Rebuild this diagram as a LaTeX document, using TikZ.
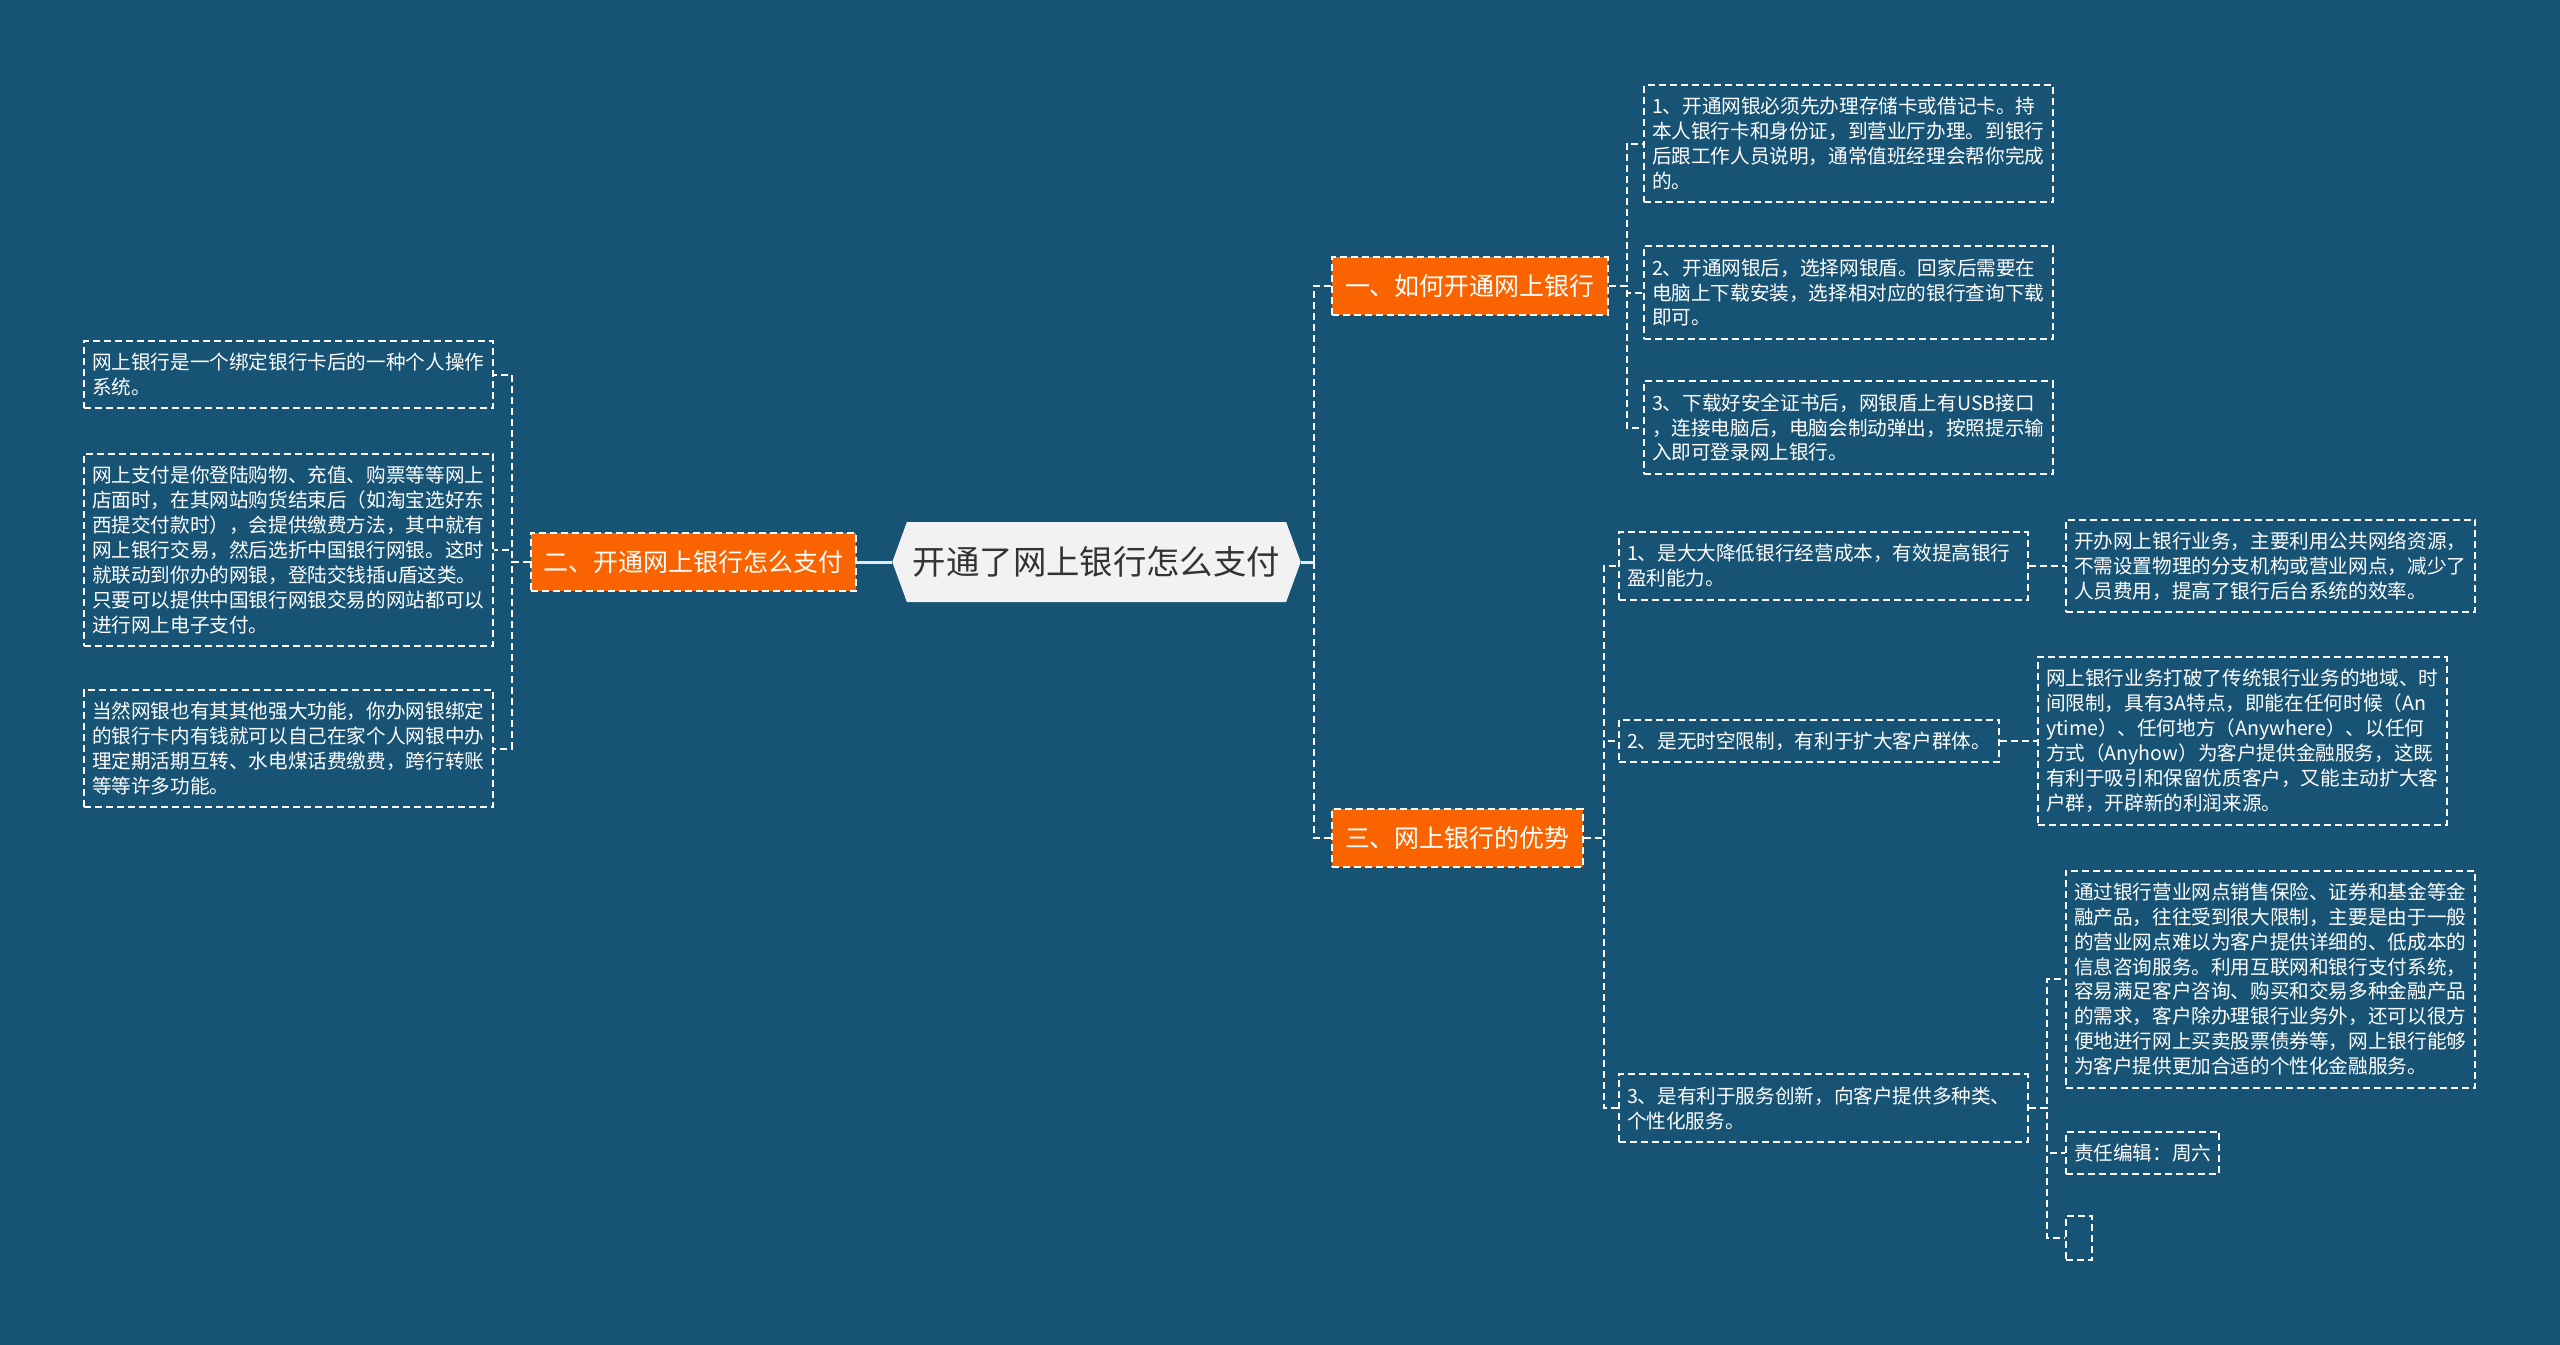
\documentclass[tikz,border=0pt]{standalone}
\usepackage{fontspec}
\newfontfamily\cjk{Noto Sans CJK SC}
\usetikzlibrary{shapes.symbols}
\definecolor{bgblue}{HTML}{175375}
\definecolor{branch}{HTML}{FA6400}
\definecolor{rootfill}{HTML}{F2F2F2}
\definecolor{rootline}{HTML}{E3EAF0}
\begin{document}
\begin{tikzpicture}[
  every node/.style={font=\cjk},
  rootbox/.style={signal, signal to=west and east, signal pointer angle=140, fill=rootfill, text=black!80, inner xsep=0.06cm, minimum height=0.8cm, font=\cjk\fontsize{9.5}{11}\selectfont},
  branchbox/.style={draw=white, dash pattern=on 0.07cm off 0.04cm, line width=0.02cm, fill=branch, text=white, inner xsep=0.13cm, minimum height=0.58cm, font=\cjk\fontsize{7.1}{8.5}\selectfont},
  leafbox/.style={draw=white, dash pattern=on 0.07cm off 0.04cm, line width=0.02cm, text=white, align=left, inner xsep=0.08cm, inner ysep=0.12cm, font=\cjk\fontsize{5.58}{7.1}\selectfont},
  textbox/.style={leafbox, text width=3.93cm},
  link/.style={draw=white, dash pattern=on 0.07cm off 0.04cm, line width=0.02cm},
  rootlink/.style={draw=rootline, line width=0.03cm}
]
\fill[bgblue] (0,0) rectangle (25.6,-13.45);
\useasboundingbox (0,0) rectangle (25.6,-13.45);

\node[rootbox] (root) at (10.965,-5.62) {开通了网上银行怎么支付};
\node[branchbox, anchor=east] (pay) at (8.57,-5.62) {二、开通网上银行怎么支付};
\node[branchbox, anchor=west] (open) at (13.31,-2.86) {一、如何开通网上银行};
\node[branchbox, anchor=west] (adv) at (13.31,-8.38) {三、网上银行的优势};

\node[textbox, anchor=east] (pay1) at (4.94,-3.745) {网上银行是一个绑定银行卡后的一种个人操作\\系统。};
\node[textbox, anchor=east] (pay2) at (4.94,-5.50) {网上支付是你登陆购物、充值、购票等等网上\\店面时，在其网站购货结束后（如淘宝选好东\\西提交付款时），会提供缴费方法，其中就有\\网上银行交易，然后选折中国银行网银。这时\\就联动到你办的网银，登陆交钱插u盾这类。\\只要可以提供中国银行网银交易的网站都可以\\进行网上电子支付。};
\node[textbox, anchor=east] (pay3) at (4.94,-7.485) {当然网银也有其其他强大功能，你办网银绑定\\的银行卡内有钱就可以自己在家个人网银中办\\理定期活期互转、水电煤话费缴费，跨行转账\\等等许多功能。};

\node[textbox, anchor=west] (open1) at (16.43,-1.435) {1、开通网银必须先办理存储卡或借记卡。持\\本人银行卡和身份证，到营业厅办理。到银行\\后跟工作人员说明，通常值班经理会帮你完成\\的。};
\node[textbox, anchor=west] (open2) at (16.43,-2.925) {2、开通网银后，选择网银盾。回家后需要在\\电脑上下载安装，选择相对应的银行查询下载\\即可。};
\node[textbox, anchor=west] (open3) at (16.43,-4.275) {3、下载好安全证书后，网银盾上有USB接口\\，连接电脑后，电脑会制动弹出，按照提示输\\入即可登录网上银行。};

\node[textbox, anchor=west] (adv1) at (16.18,-5.66) {1、是大大降低银行经营成本，有效提高银行\\盈利能力。};
\node[leafbox, anchor=west] (adv2) at (16.18,-7.41) {2、是无时空限制，有利于扩大客户群体。};
\node[textbox, anchor=west] (adv3) at (16.18,-11.08) {3、是有利于服务创新，向客户提供多种类、\\个性化服务。};

\node[textbox, anchor=west] (cost) at (20.65,-5.66) {开办网上银行业务，主要利用公共网络资源，\\不需设置物理的分支机构或营业网点，减少了\\人员费用，提高了银行后台系统的效率。};
\node[textbox, anchor=west] (time) at (20.37,-7.41) {网上银行业务打破了传统银行业务的地域、时\\间限制，具有3A特点，即能在任何时候（An\\ytime）、任何地方（Anywhere）、以任何\\方式（Anyhow）为客户提供金融服务，这既\\有利于吸引和保留优质客户，又能主动扩大客\\户群，开辟新的利润来源。};
\node[textbox, anchor=west] (service) at (20.65,-9.79) {通过银行营业网点销售保险、证券和基金等金\\融产品，往往受到很大限制，主要是由于一般\\的营业网点难以为客户提供详细的、低成本的\\信息咨询服务。利用互联网和银行支付系统，\\容易满足客户咨询、购买和交易多种金融产品\\的需求，客户除办理银行业务外，还可以很方\\便地进行网上买卖股票债券等，网上银行能够\\为客户提供更加合适的个性化金融服务。};
\node[leafbox, anchor=west] (editor) at (20.65,-11.53) {责任编辑：周六};
\node[leafbox, anchor=west, minimum width=0.26cm, minimum height=0.44cm] (blank) at (20.65,-12.38) {};

\coordinate (rootR) at (13.14,-5.62);
\draw[rootlink] (root.west) -- (pay.east);
\draw[rootlink] (root.east) -- (rootR);
\draw[link] (rootR) |- (open.west);
\draw[link] (rootR) |- (adv.west);

\draw[link] (pay.west) -- ++(-0.18,0) |- (pay1.east);
\draw[link] (pay.west) -- ++(-0.18,0) |- (pay2.east);
\draw[link] (pay.west) -- ++(-0.18,0) |- (pay3.east);

\draw[link] (open.east) -- ++(0.18,0) |- (open1.west);
\draw[link] (open.east) -- ++(0.18,0) |- (open2.west);
\draw[link] (open.east) -- ++(0.18,0) |- (open3.west);

\draw[link] (adv.east) -- ++(0.2,0) |- (adv1.west);
\draw[link] (adv.east) -- ++(0.2,0) |- (adv2.west);
\draw[link] (adv.east) -- ++(0.2,0) |- (adv3.west);

\draw[link] (adv1.east) -- (cost.west);
\draw[link] (adv2.east) -- (time.west);
\draw[link] (adv3.east) -- ++(0.18,0) |- (service.west);
\draw[link] (adv3.east) -- ++(0.18,0) |- (editor.west);
\draw[link] (adv3.east) -- ++(0.18,0) |- (blank.west);
\end{tikzpicture}
\end{document}
